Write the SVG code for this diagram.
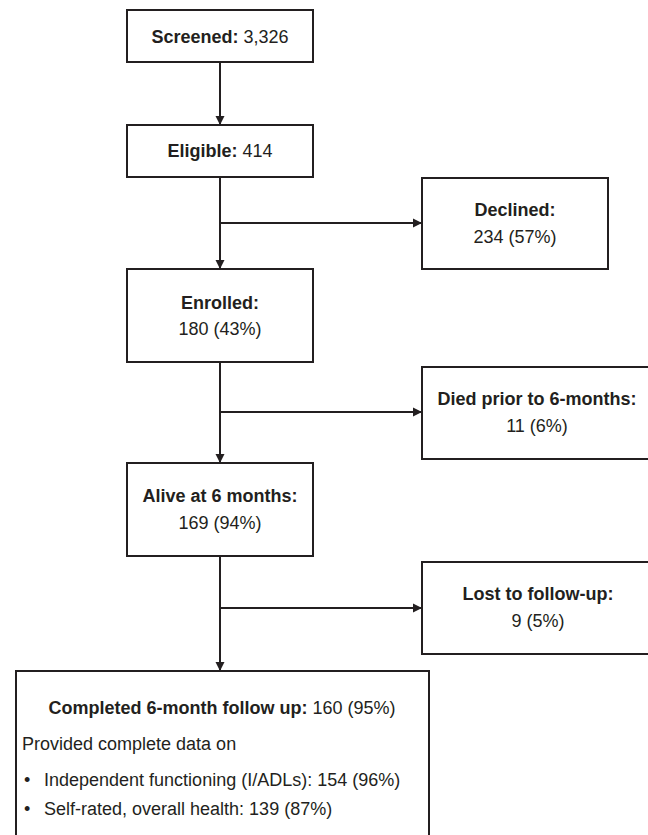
<svg xmlns="http://www.w3.org/2000/svg" width="648" height="835" viewBox="0 0 648 835">
<style>
.box{fill:#fff;stroke:#231f20;stroke-width:2}
.edge{fill:none;stroke:#231f20;stroke-width:2}
text{font-family:"Liberation Sans",Arial,sans-serif;font-size:18px;fill:#231f20}
.c{text-anchor:middle}
.b{font-weight:bold}
</style>
<defs>
<marker id="arr" markerUnits="userSpaceOnUse" markerWidth="10" markerHeight="10" refX="9" refY="5" orient="auto">
<path d="M0,0.5 L9,5 L0,9.5 z" fill="#231f20"/>
</marker>
</defs>
<g id="connectors">
<line class="edge" x1="220" y1="62" x2="220" y2="125" marker-end="url(#arr)"/>
<line class="edge" x1="220" y1="177" x2="220" y2="269" marker-end="url(#arr)"/>
<line class="edge" x1="220" y1="223" x2="422" y2="223" marker-end="url(#arr)"/>
<line class="edge" x1="220" y1="362" x2="220" y2="463" marker-end="url(#arr)"/>
<line class="edge" x1="220" y1="412" x2="422" y2="412" marker-end="url(#arr)"/>
<line class="edge" x1="220" y1="556" x2="220" y2="671" marker-end="url(#arr)"/>
<line class="edge" x1="220" y1="608" x2="422" y2="608" marker-end="url(#arr)"/>
</g>
<g id="screened">
<rect class="box" x="127" y="10" width="186" height="52"/>
<text class="c" x="220" y="43"><tspan class="b">Screened:</tspan> 3,326</text>
</g>
<g id="eligible">
<rect class="box" x="127" y="125" width="186" height="52"/>
<text class="c" x="220" y="157"><tspan class="b">Eligible:</tspan> 414</text>
</g>
<g id="declined">
<rect class="box" x="422" y="178" width="186" height="91"/>
<text class="c b" x="515" y="216">Declined:</text>
<text class="c" x="515" y="243">234 (57%)</text>
</g>
<g id="enrolled">
<rect class="box" x="127" y="269" width="186" height="93"/>
<text class="c b" x="220" y="309">Enrolled:</text>
<text class="c" x="220" y="335">180 (43%)</text>
</g>
<g id="died">
<rect class="box" x="422" y="367" width="230" height="92"/>
<text class="c b" x="537" y="405">Died prior to 6-months:</text>
<text class="c" x="537" y="432">11 (6%)</text>
</g>
<g id="alive">
<rect class="box" x="127" y="463" width="186" height="93"/>
<text class="c b" x="220" y="502">Alive at 6 months:</text>
<text class="c" x="220" y="529">169 (94%)</text>
</g>
<g id="lost">
<rect class="box" x="422" y="562" width="232" height="92"/>
<text class="c b" x="538" y="600">Lost to follow-up:</text>
<text class="c" x="538" y="627">9 (5%)</text>
</g>
<g id="completed">
<rect class="box" x="16" y="671" width="413" height="200"/>
<text class="c" x="222" y="714"><tspan class="b">Completed 6-month follow up:</tspan> 160 (95%)</text>
<text x="22" y="750">Provided complete data on</text>
<text x="24" y="786">•</text>
<text x="44" y="786">Independent functioning (I/ADLs): 154 (96%)</text>
<text x="24" y="815">•</text>
<text x="44" y="815">Self-rated, overall health: 139 (87%)</text>
</g>
</svg>
